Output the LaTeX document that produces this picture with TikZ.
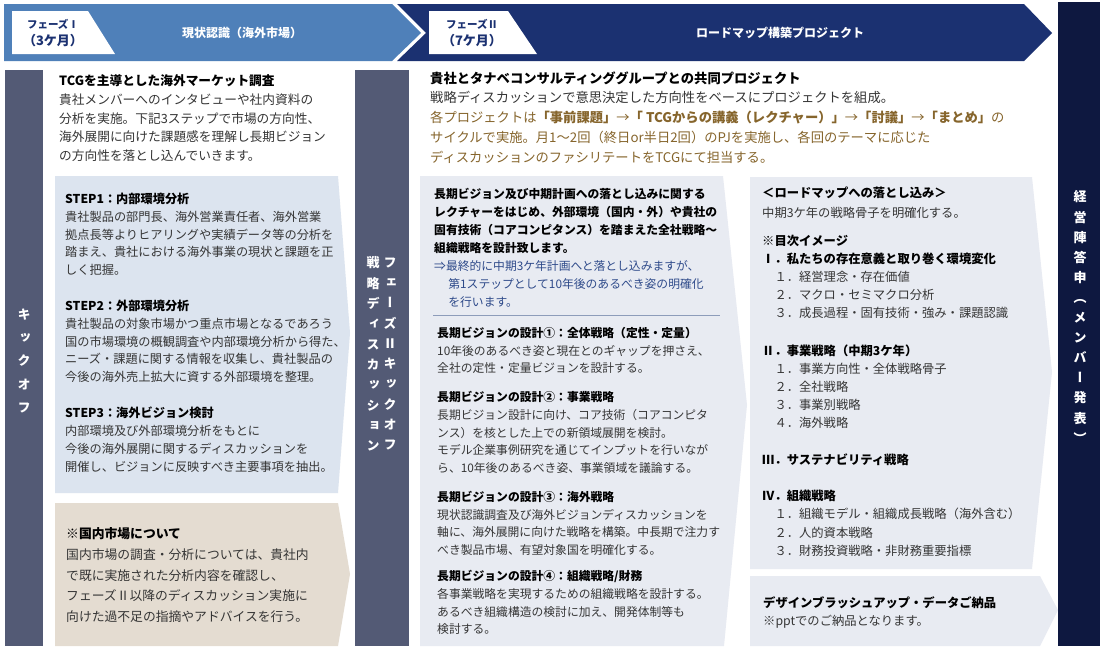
\documentclass[tikz,border=0pt]{standalone}
\usepackage{fontspec}
\setmainfont{Noto Sans CJK JP}
\newfontfamily\tatefont[RawFeature=+vert]{Noto Sans CJK JP}
\definecolor{phaseone}{HTML}{4F80B9}
\definecolor{phasetwo}{HTML}{1B3171}
\definecolor{answerbar}{HTML}{0E1840}
\definecolor{slatebar}{HTML}{535A75}
\definecolor{stepfill}{HTML}{DCE4EF}
\definecolor{domfill}{HTML}{E4DCD1}
\definecolor{panelfill}{HTML}{E8EBF2}
\definecolor{cyclebrown}{HTML}{86652C}
\definecolor{noteblue}{HTML}{2E4A8A}
\definecolor{bodygray}{HTML}{353535}
\definecolor{ruleblue}{HTML}{8D9CBA}
\newcommand\setfs[2]{\fontsize{#1}{#2}\selectfont}

\begin{document}
\begin{tikzpicture}[x=1pt, y=-1pt,
        txt/.style = {anchor=north west, inner sep=0pt, align=left, text=bodygray},
        tate/.style = {inner sep=0pt, align=center, text=white, font=\tatefont\bfseries\setfs{13}{#1}},
        tabtext/.style = {inner sep=0pt, text=phasetwo, font=\bfseries\setfs{#1}{#1}},
        bannertext/.style = {inner sep=0pt, text=white, font=\bfseries\setfs{12}{14}}
        ]
    \fill[white] (0,0) rectangle (1100,646);
    \useasboundingbox (0,0) rectangle (1100,646);
    % phase banners
    \fill[phasetwo] (397,4) -- (1024,4) -- (1052,33) -- (1024,61) -- (397,61) -- (426,33) -- cycle;
    \fill[phaseone] (4,4) -- (392,4) -- (421,33) -- (392,61) -- (4,61) -- cycle;
    \fill[white] (12,11) -- (88,11) -- (115,54) -- (12,54) -- cycle;
    \fill[white] (429,11) -- (508,11) -- (537,54) -- (429,54) -- cycle;
    \node[tabtext=10.5] (phaseone) at (53,24) {フェーズⅠ};
    \node[tabtext=13] (monthsone) at (53,41) {（3ケ月）};
    \node[tabtext=10.5] (phasetwo) at (472,24) {フェーズⅡ};
    \node[tabtext=13] (monthstwo) at (472,41) {（7ケ月）};
    \node[bannertext] (survey) at (242,33) {現状認識（海外市場）};
    \node[bannertext] (roadmap) at (780,33) {ロードマップ構築プロジェクト};

    % bars
    \fill[slatebar] (5,70) rectangle (43,646);
    \fill[slatebar] (355,70) rectangle (409,646);
    \fill[answerbar] (1058,2) rectangle (1100,646);
    \node[tate=23.3] (kickoff) at (24,361) {キ\\ッ\\ク\\オ\\フ};
    \node[tate=20.3] (strategy) at (373,354) {戦\\略\\デ\\ィ\\ス\\カ\\ッ\\シ\\ョ\\ン};
    \node[tate=20.3] (phasekick) at (390,354) {フ\\ェ\\ー\\ズ\\Ⅱ\\キ\\ッ\\ク\\オ\\フ};
    \node[tate=20.1] (answer) at (1080,317) {経\\営\\陣\\答\\申\\（\\メ\\ン\\バ\\ー\\発\\表\\）};

    % panels
    \fill[stepfill] (55,176) -- (338,176) -- (350,333) -- (338,493) -- (55,493) -- cycle;
    \fill[domfill] (55,503) -- (338,503) -- (350,574) -- (338,646) -- (55,646) -- cycle;
    \fill[panelfill] (420,176) -- (723,176) -- (747,405) -- (724,646) -- (420,646) -- cycle;
    \fill[panelfill] (750,177) -- (1032,177) -- (1052,372) -- (1032,569) -- (750,569) -- cycle;
    \fill[panelfill] (750,576) -- (1040,576) -- (1058,610) -- (1040,646) -- (750,646) -- cycle;

    % phase I texts
    \node[txt, font=\setfs{12.7}{18.7}] (intro) at (59,74.6) {%
        {\bfseries\color{black}TCGを主導とした海外マーケット調査}\\
        貴社メンバーへのインタビューや社内資料の\\
        分析を実施。下記3ステップで市場の方向性、\\
        海外展開に向けた課題感を理解し長期ビジョン\\
        の方向性を落とし込んでいきます。};
    \node[txt, font=\setfs{12.2}{17.8}] (stepone) at (65,192.9) {%
        {\bfseries\color{black}STEP1：内部環境分析}\\
        貴社製品の部門長、海外営業責任者、海外営業\\
        拠点長等よりヒアリングや実績データ等の分析を\\
        踏まえ、貴社における海外事業の現状と課題を正\\
        しく把握。};
    \node[txt, font=\setfs{12.2}{17.8}] (steptwo) at (65,299.9) {%
        {\bfseries\color{black}STEP2：外部環境分析}\\
        貴社製品の対象市場かつ重点市場となるであろう\\
        国の市場環境の概観調査や内部環境分析から得た、\\
        ニーズ・課題に関する情報を収集し、貴社製品の\\
        今後の海外売上拡大に資する外部環境を整理。};
    \node[txt, font=\setfs{12.2}{17.8}] (stepthree) at (65,406.9) {%
        {\bfseries\color{black}STEP3：海外ビジョン検討}\\
        内部環境及び外部環境分析をもとに\\
        今後の海外展開に関するディスカッションを\\
        開催し、ビジョンに反映すべき主要事項を抽出。};
    \node[txt, font=\setfs{12.8}{20.7}] (domestic) at (66,527.6) {%
        {\bfseries\color{black}※国内市場について}\\
        国内市場の調査・分析については、貴社内\\
        で既に実施された分析内容を確認し、\\
        フェーズⅡ以降のディスカッション実施に\\
        向けた過不足の指摘やアドバイスを行う。};

    % phase II texts
    \node[txt, font=\setfs{13.3}{19.7}] (joint) at (430,71.4) {%
        {\bfseries\color{black}貴社とタナベコンサルティンググループとの共同プロジェクト}\\
        戦略ディスカッションで意思決定した方向性をベースにプロジェクトを組成。\\
        \textcolor{cyclebrown}{各プロジェクトは{\bfseries「事前課題」}→{\bfseries「 TCGからの講義（レクチャー）」}→{\bfseries「討議」}→{\bfseries「まとめ」}の}\\
        \textcolor{cyclebrown}{サイクルで実施。月1～2回（終日or半日2回）のPJを実施し、各回のテーマに応じた}\\
        \textcolor{cyclebrown}{ディスカッションのファシリテートをTCGにて担当する。}};
    \node[txt, font=\setfs{11.8}{17.9}] (lecture) at (434,188.1) {%
        {\bfseries\color{black}長期ビジョン及び中期計画への落とし込みに関する}\\
        {\bfseries\color{black}レクチャーをはじめ、外部環境（国内・外）や貴社の}\\
        {\bfseries\color{black}固有技術（コアコンピタンス）を踏まえた全社戦略～}\\
        {\bfseries\color{black}組織戦略を設計致します。}\\
        \textcolor{noteblue}{⇒最終的に中期3ケ年計画へと落とし込みますが、}\\
        \textcolor{noteblue}{\hspace*{1.2em}第1ステップとして10年後のあるべき姿の明確化}\\
        \textcolor{noteblue}{\hspace*{1.2em}を行います。}};
    \coordinate (rulestart) at (433,315);
    \coordinate (ruleend) at (720,315);
    \draw[ruleblue, line width=0.8pt] (rulestart) -- (ruleend);
    \node[txt, font=\setfs{11.8}{17.6}] (designone) at (437,327.1) {%
        {\bfseries\color{black}長期ビジョンの設計①：全体戦略（定性・定量）}\\
        10年後のあるべき姿と現在とのギャップを押さえ、\\
        全社の定性・定量ビジョンを設計する。};
    \node[txt, font=\setfs{11.8}{17.7}] (designtwo) at (437,391.1) {%
        {\bfseries\color{black}長期ビジョンの設計②：事業戦略}\\
        長期ビジョン設計に向け、コア技術（コアコンピタ\\
        ンス）を核とした上での新領域展開を検討。\\
        モデル企業事例研究を通じてインプットを行いなが\\
        ら、10年後のあるべき姿、事業領域を議論する。};
    \node[txt, font=\setfs{11.8}{17.5}] (designthree) at (437,491.1) {%
        {\bfseries\color{black}長期ビジョンの設計③：海外戦略}\\
        現状認識調査及び海外ビジョンディスカッションを\\
        軸に、海外展開に向けた戦略を構築。中長期で注力す\\
        べき製品市場、有望対象国を明確化する。};
    \node[txt, font=\setfs{11.8}{17.7}] (designfour) at (437,570.1) {%
        {\bfseries\color{black}長期ビジョンの設計④：組織戦略/財務}\\
        各事業戦略を実現するための組織戦略を設計する。\\
        あるべき組織構造の検討に加え、開発体制等も\\
        検討する。};

    % roadmap texts
    \node[txt, font=\setfs{12.3}{20}] (rmhead) at (762,186.9) {%
        {\bfseries\color{black}＜ロードマップへの落とし込み＞}\\
        中期3ケ年の戦略骨子を明確化する。};
    \node[txt, font=\setfs{12.3}{18}] (tocone) at (762,234.9) {%
        {\bfseries\color{black}※目次イメージ}\\
        {\bfseries\color{black}Ⅰ．私たちの存在意義と取り巻く環境変化}\\
        \hspace*{1em}１．経営理念・存在価値\\
        \hspace*{1em}２．マクロ・セミマクロ分析\\
        \hspace*{1em}３．成長過程・固有技術・強み・課題認識};
    \node[txt, font=\setfs{12.3}{18}] (toctwo) at (762,344.9) {%
        {\bfseries\color{black}Ⅱ．事業戦略（中期3ケ年）}\\
        \hspace*{1em}１．事業方向性・全体戦略骨子\\
        \hspace*{1em}２．全社戦略\\
        \hspace*{1em}３．事業別戦略\\
        \hspace*{1em}４．海外戦略};
    \node[txt, font=\setfs{12.3}{18}] (tocthree) at (762,453.9) {%
        {\bfseries\color{black}Ⅲ．サステナビリティ戦略}};
    \node[txt, font=\setfs{12.3}{18.3}] (tocfour) at (762,489.9) {%
        {\bfseries\color{black}Ⅳ．組織戦略}\\
        \hspace*{1em}１．組織モデル・組織成長戦略（海外含む）\\
        \hspace*{1em}２．人的資本戦略\\
        \hspace*{1em}３．財務投資戦略・非財務重要指標};
    \node[txt, font=\setfs{12.3}{18}] (delivery) at (763,596.9) {%
        {\bfseries\color{black}デザインブラッシュアップ・データご納品}\\
        ※pptでのご納品となります。};
\end{tikzpicture}
\end{document}
